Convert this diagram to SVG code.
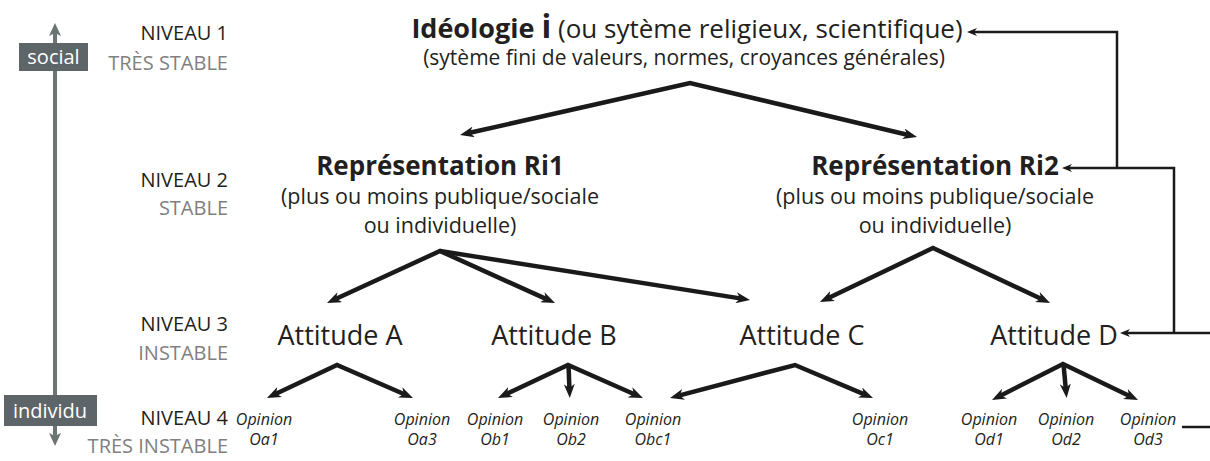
<svg xmlns="http://www.w3.org/2000/svg" width="1210" height="461" viewBox="0 0 1210 461">
<style>
text{font-family:"Open Sans","Liberation Sans",sans-serif;fill:#231f20}
.lvl{font-size:20px;text-anchor:end}
.sub{fill:#808080}
.b{font-weight:bold}
.t1{font-size:26px}
.t2{font-size:21px;text-anchor:middle}
.rh{font-size:26px;font-weight:bold;text-anchor:middle}
.rs{font-size:21.5px;text-anchor:middle}
.att{font-size:27px;text-anchor:middle}
.op{font-size:16px;font-style:italic;text-anchor:middle}
.thick{fill:none;stroke:#1a1a1a;stroke-width:4.5;stroke-linejoin:miter}
.thin{fill:none;stroke:#1a1a1a;stroke-width:2.5}
.tag{fill:#fff;font-size:20px;text-anchor:middle}
</style>
<defs>
<marker id="ah" markerUnits="userSpaceOnUse" viewBox="0 0 14 11" markerWidth="14" markerHeight="11" refX="4" refY="5.5" orient="auto-start-reverse">
<path d="M0,0 L14,5.5 L0,11 L4,5.5 z" fill="#1a1a1a"/>
</marker>
<marker id="as" markerUnits="userSpaceOnUse" viewBox="0 0 10 8" markerWidth="10" markerHeight="8" refX="3" refY="4" orient="auto">
<path d="M0,0 L10,4 L0,8 L3,4 z" fill="#1a1a1a"/>
</marker>
</defs>
<rect width="1210" height="461" fill="#fff"/>

<g id="axis">
<line x1="55" y1="32" x2="55" y2="438" stroke="#6b7674" stroke-width="4"/>
<path d="M55,23 L61,36 L55,33 L49,36 z" fill="#6b7674"/>
<path d="M55,446 L61,433 L55,436 L49,433 z" fill="#6b7674"/>
<rect x="19" y="43" width="69" height="28" fill="#5d6569"/>
<text class="tag" x="53.5" y="64">social</text>
<rect x="4" y="395" width="93" height="31" fill="#5d6569"/>
<text class="tag" x="50" y="418">individu</text>
</g>

<g id="levels">
<text class="lvl" x="228" y="40">NIVEAU 1</text>
<text class="lvl sub" x="228" y="70">TRÈS STABLE</text>
<text class="lvl" x="228" y="187">NIVEAU 2</text>
<text class="lvl sub" x="228" y="215">STABLE</text>
<text class="lvl" x="228" y="331">NIVEAU 3</text>
<text class="lvl sub" x="228" y="360">INSTABLE</text>
<text class="lvl" x="228" y="425">NIVEAU 4</text>
<text class="lvl sub" x="228" y="453">TRÈS INSTABLE</text>
</g>

<g id="ideologie">
<text x="687" y="38" text-anchor="middle" class="t1"><tspan class="b" font-size="27">Idéologie </tspan><tspan class="b" font-size="32">i</tspan> (ou sytème religieux, scientifique)</text>
<text class="t2" x="684" y="65">(sytème fini de valeurs, normes, croyances générales)</text>
</g>

<g id="ri1">
<text class="rh" x="440" y="175">Représentation Ri1</text>
<text class="rs" x="440" y="204">(plus ou moins publique/sociale</text>
<text class="rs" x="440" y="233">ou individuelle)</text>
</g>
<g id="ri2">
<text class="rh" x="935" y="175">Représentation Ri2</text>
<text class="rs" x="935" y="204">(plus ou moins publique/sociale</text>
<text class="rs" x="935" y="233">ou individuelle)</text>
</g>

<g id="attA"><text class="att" x="340" y="345">Attitude A</text></g>
<g id="attB"><text class="att" x="554" y="345">Attitude B</text></g>
<g id="attC"><text class="att" x="802" y="345">Attitude C</text></g>
<g id="attD"><text class="att" x="1054" y="345">Attitude D</text></g>

<g id="oa1"><text class="op" x="264" y="425">Opinion</text><text class="op" x="264" y="445">Oa1</text></g>
<g id="oa3"><text class="op" x="422" y="425">Opinion</text><text class="op" x="422" y="445">Oa3</text></g>
<g id="ob1"><text class="op" x="495" y="425">Opinion</text><text class="op" x="495" y="445">Ob1</text></g>
<g id="ob2"><text class="op" x="571" y="425">Opinion</text><text class="op" x="571" y="445">Ob2</text></g>
<g id="obc1"><text class="op" x="653" y="425">Opinion</text><text class="op" x="653" y="445">Obc1</text></g>
<g id="oc1"><text class="op" x="880" y="425">Opinion</text><text class="op" x="880" y="445">Oc1</text></g>
<g id="od1"><text class="op" x="989" y="425">Opinion</text><text class="op" x="989" y="445">Od1</text></g>
<g id="od2"><text class="op" x="1066" y="425">Opinion</text><text class="op" x="1066" y="445">Od2</text></g>
<g id="od3"><text class="op" x="1148" y="425">Opinion</text><text class="op" x="1148" y="445">Od3</text></g>

<g id="connectors">
<path class="thick" d="M469.8,132.8 L690,83 L907.3,134.7" marker-start="url(#ah)" marker-end="url(#ah)"/>
<path class="thick" d="M336.1,298.8 L440,251 L545.9,298.9" marker-start="url(#ah)" marker-end="url(#ah)"/>
<path class="thick" d="M440,251 L740.1,298.4" marker-end="url(#ah)"/>
<path class="thick" d="M829,297.7 L933,248 L1041,298.7" marker-start="url(#ah)" marker-end="url(#ah)"/>
<path class="thick" d="M276,393.7 L337,365 L403.8,394" marker-start="url(#ah)" marker-end="url(#ah)"/>
<path class="thick" d="M507,393.7 L568,365 L633.8,394" marker-start="url(#ah)" marker-end="url(#ah)"/>
<path class="thick" d="M568.5,365 L569.4,388" marker-end="url(#ah)"/>
<path class="thick" d="M679.7,395.4 L795,365 L863.8,394.1" marker-start="url(#ah)" marker-end="url(#ah)"/>
<path class="thick" d="M1000.9,395.5 L1063,364 L1129,395.7" marker-start="url(#ah)" marker-end="url(#ah)"/>
<path class="thick" d="M1063.5,364 L1065.7,388" marker-end="url(#ah)"/>
<path class="thin" d="M1210,333 H1127" marker-end="url(#as)"/>
<path class="thin" d="M1174,333 V168 H1069" marker-end="url(#as)"/>
<path class="thin" d="M1117,168 V32 H974" marker-end="url(#as)"/>
<path class="thin" d="M1182,427 H1210"/>
</g>
</svg>
